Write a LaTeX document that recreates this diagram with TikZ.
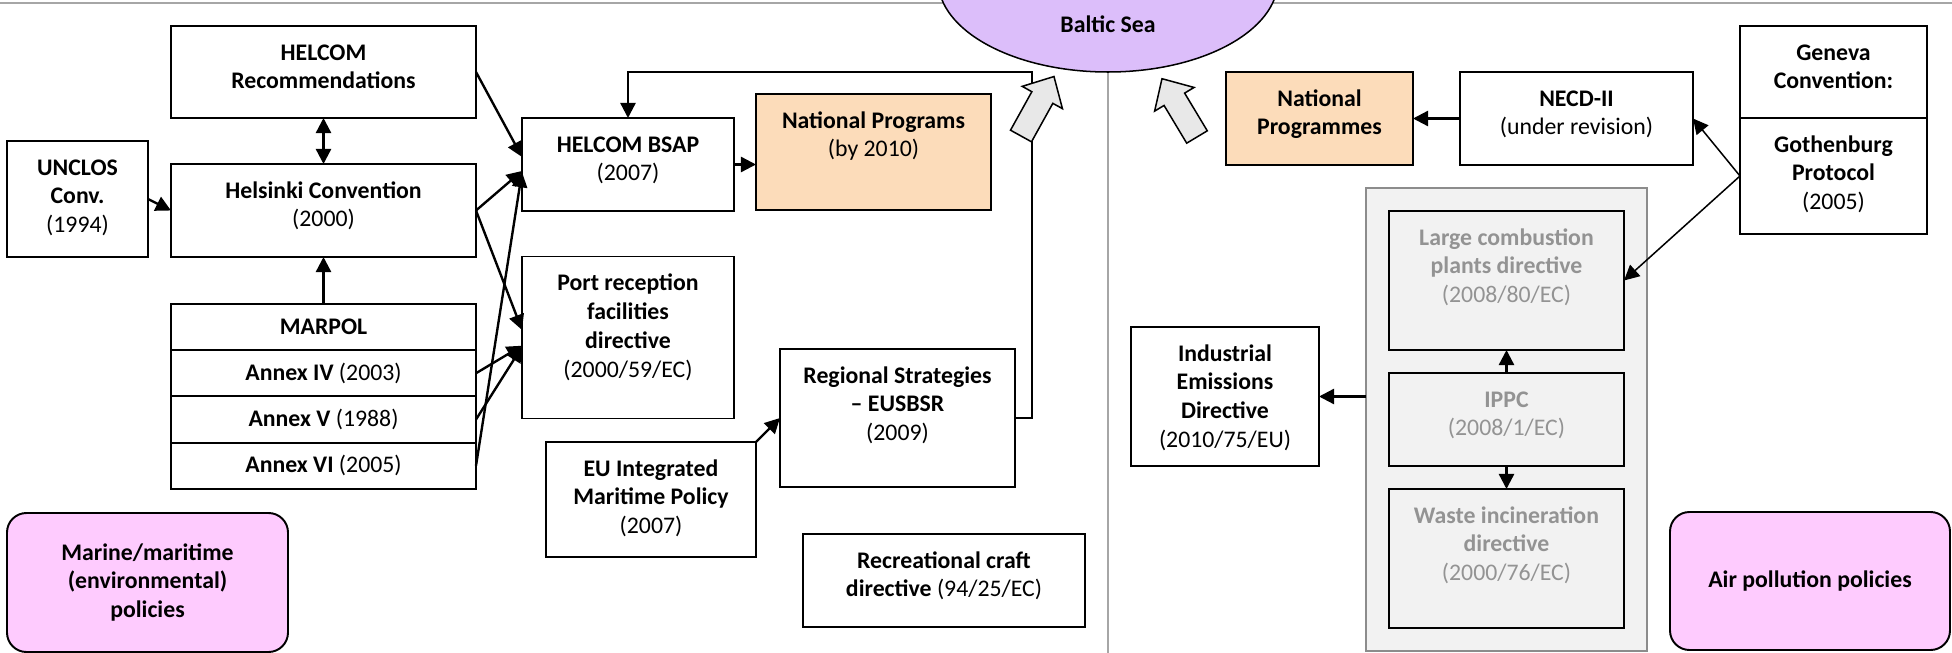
\documentclass[tikz,border=0pt]{standalone}
\usepackage{fontspec}
\setmainfont{Carlito}
\usepackage{xcolor}
\usetikzlibrary{positioning, arrows.meta, shapes.geometric}

\definecolor{peach}{HTML}{FCDCBA}
\definecolor{pinkbox}{HTML}{FECBFE}
\definecolor{lilac}{HTML}{DCBEFA}
\definecolor{paneltint}{HTML}{F2F2F2}
\definecolor{fadedtext}{HTML}{939393}
\definecolor{paneledge}{HTML}{8C8C8C}
\definecolor{rulegrey}{HTML}{A6A6A6}
\definecolor{fatgrey}{HTML}{E8E8E8}

\newlength\px
\setlength\px{0.4625pt}
% box body: width and height in px, text hung from the top
\newcommand\boxtext[3]{\parbox[c][#2\px][t]{#1\px}{\centering\rule{0pt}{34\px}#3}}

\tikzset{
  pics/fatarrow/.style={code={
    \draw[fill=fatgrey, line width=0.7pt, line join=miter]
      (-12,0) -- (-12,-44) -- (-23,-44) -- (0,-68) -- (23,-44) -- (12,-44) -- (12,0) -- cycle;
  }}
}

\begin{document}
\begin{tikzpicture}[
    x=0.4625pt, y=-0.4625pt,
    >={Triangle[length=7pt, width=7pt]},
    every node/.style={font=\fontsize{11}{13.4}\selectfont},
    box/.style={draw, line width=0.9pt, inner sep=0pt, outer sep=0pt, fill=white},
    row/.style={box, minimum width=305*\px, minimum height=46.25*\px},
    faded/.style={box, fill=paneltint, text=fadedtext},
    policy/.style={draw, line width=0.9pt, fill=pinkbox, rounded corners=9pt, align=center,
        inner sep=0pt, outer sep=0pt, font=\fontsize{11}{13.4}\selectfont\bfseries},
    link/.style={->, line width=1.1pt},
    thinlink/.style={->, line width=0.7pt},
    rule/.style={rulegrey, line width=0.8pt}
]
    \useasboundingbox (0,0) rectangle (1952,653);
    \clip (0,0) rectangle (1952,653);

    % frame lines and the sea
    \draw[rule] (0,3) -- (1952,3);
    \node[draw, ellipse, fill=lilac, line width=0.7pt, minimum width=340*\px, minimum height=184*\px] (target) at (1108,-20) {};
    \node[font=\fontsize{11}{13.4}\selectfont\bfseries] (sea) at (1108,24) {Baltic Sea};
    \draw[rule] (target.south) -- (1108,653);

    % marine side
    \node[box] (recs) at (323.5,72) {\boxtext{305}{92}{\textbf{HELCOM}\\\textbf{Recommendations}}};
    \node[box] (unclos) at (77.5,199) {\boxtext{141}{116}{\textbf{UNCLOS}\\\textbf{Conv.}\\(1994)}};
    \node[box] (helsinki) at (323.5,210.5) {\boxtext{305}{93}{\textbf{Helsinki Convention}\\(2000)}};

    \node[row] (marpol) at (323.5,327) {\textbf{MARPOL}};
    \node[row, below=0pt of marpol] (annex4) {\textbf{Annex IV} (2003)};
    \node[row, below=0pt of annex4] (annex5) {\textbf{Annex V} (1988)};
    \node[row, below=0pt of annex5] (annex6) {\textbf{Annex VI} (2005)};

    \node[policy, minimum width=281*\px, minimum height=139*\px] (marine) at (147.5,582.5)
        {Marine/maritime\\(environmental)\\policies};

    \node[box] (bsap) at (628,164.5) {\boxtext{212}{93}{\textbf{HELCOM BSAP}\\(2007)}};
    \node[box, fill=peach] (natprog) at (873.5,152) {\boxtext{235}{116}{\textbf{National Programs}\\(by 2010)}};
    \node[box] (port) at (628,337.5) {\boxtext{212}{162}{\textbf{Port reception}\\\textbf{facilities}\\\textbf{directive}\\(2000/59/EC)}};
    \node[box] (regional) at (897.5,418) {\boxtext{235}{138}{\textbf{Regional Strategies}\\\textbf{-- EUSBSR}\\(2009)}};
    \node[box] (eimp) at (651,499.5) {\boxtext{210}{115}{\textbf{EU Integrated}\\\textbf{Maritime Policy}\\(2007)}};
    \node[box] (recr) at (944,580.5) {\boxtext{282}{93}{\textbf{Recreational craft}\\\textbf{directive} (94/25/EC)}};

    % marine links
    \draw[<->, line width=1.1pt] (recs.south) -- (helsinki.north);
    \draw[link] (unclos.east) -- (helsinki.west);
    \draw[link] (marpol.north) -- (helsinki.south);
    \draw[link] (recs.east) -- ([yshift=3.5pt]bsap.west);
    \draw[link] (helsinki.east) -- ([yshift=-3pt]bsap.west);
    \draw[link] (annex6.east) -- ([yshift=-3.5pt]bsap.west);
    \draw[link] (helsinki.east) -- ([yshift=3.5pt]port.west);
    \draw[link] (annex4.east) -- ([yshift=-3.8pt]port.west);
    \draw[link] (annex5.east) -- ([yshift=-4.3pt]port.west);
    \draw[link] (bsap.east) -- (bsap.east -| natprog.west);
    \draw[link] (eimp.north east) -- (regional.west);
    \draw[link] (regional.east) -- ++(17,0) |- ([yshift=21.3pt]bsap.north) -- (bsap.north);

    % air side
    \node[box, fill=peach] (natprog2) at (1319.5,118.5) {\boxtext{187}{93}{\textbf{National}\\\textbf{Programmes}}};
    \node[box] (necd) at (1576.5,118.5) {\boxtext{233}{93}{\textbf{NECD-II}\\(under revision)}};
    \node[box] (geneva) at (1833.5,72) {\boxtext{187}{92}{\textbf{Geneva}\\\textbf{Convention:}}};
    \node[box] (goth) at (1833.5,176) {\boxtext{187}{116}{\textbf{Gothenburg}\\\textbf{Protocol}\\(2005)}};

    \node[draw=paneledge, fill=paneltint, line width=0.9pt, inner sep=0pt, outer sep=0pt,
        minimum width=281*\px, minimum height=463*\px] (panel) at (1506.5,419.5) {};
    \node[faded] (lcp) at (1506.5,280.5) {\boxtext{235}{139}{\textbf{Large combustion}\\\textbf{plants directive}\\(2008/80/EC)}};
    \node[faded] (ippc) at (1506.5,419.5) {\boxtext{235}{93}{\textbf{IPPC}\\(2008/1/EC)}};
    \node[faded] (wid) at (1506.5,558.5) {\boxtext{235}{139}{\textbf{Waste incineration}\\\textbf{directive}\\(2000/76/EC)}};
    \node[box] (ied) at (1225,396.5) {\boxtext{188}{139}{\textbf{Industrial}\\\textbf{Emissions}\\\textbf{Directive}\\(2010/75/EU)}};

    \node[policy, minimum width=280*\px, minimum height=138*\px] (air) at (1810,581) {Air pollution policies};

    % air links
    \draw[link] (necd.west) -- (natprog2.east);
    \draw[thinlink] (goth.west) -- (necd.east);
    \draw[thinlink] (goth.west) -- (lcp.east);
    \draw[link] (ippc.north) -- (lcp.south);
    \draw[link] (ippc.south) -- (wid.north);
    \draw[link] (panel.west |- ied.east) -- (ied.east);

    % block arrows into the sea
    \pic[rotate=-29] at (1021,136) {fatarrow};
    \pic[rotate=31] at (1197,137) {fatarrow};
\end{tikzpicture}
\end{document}
